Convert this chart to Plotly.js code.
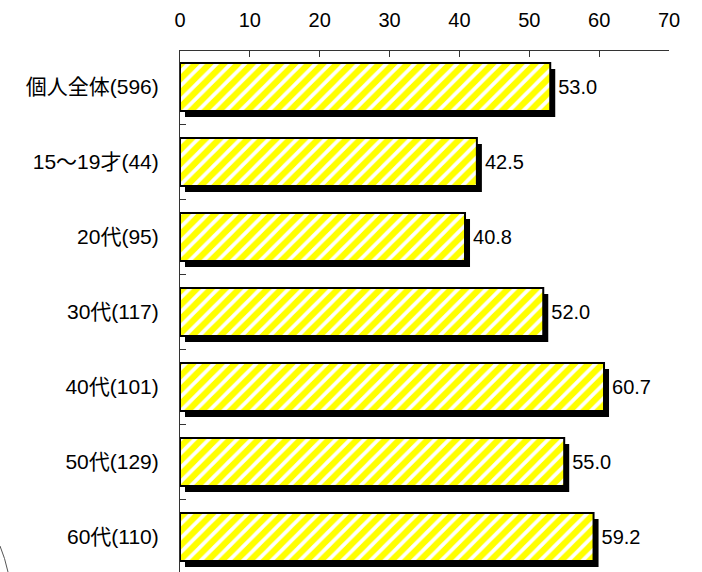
<!DOCTYPE html>
<html>
<head>
<meta charset="utf-8">
<script src="https://cdn.plot.ly/plotly-3.0.1.min.js"></script>
<style>html,body{margin:0;padding:0;background:#fff;}#chart{width:702px;height:572px;}</style>
</head>
<body>
<div id="chart"></div>
<script>
var categories = ["個人全体(596)", "15～19才(44)", "20代(95)", "30代(117)", "40代(101)", "50代(129)", "60代(110)"];
var values = [53.0, 42.5, 40.8, 52.0, 60.7, 55.0, 59.2];
var valueLabels = ["53.0", "42.5", "40.8", "52.0", "60.7", "55.0", "59.2"];
var xTicks = [0, 10, 20, 30, 40, 50, 60, 70];

var W = 702, H = 572, L = 180, R = 33, T = 51, B = 0;
var plotW = W - L - R, plotH = H - T - B;
var xMax = 70;
var pxPerUnit = plotW / xMax;
var shiftX = 5 / pxPerUnit;       // shadow shift right (5px)
var catPx = 75;
var barWidth = 0.64;
var shiftY = 6 / catPx;           // shadow shift down (6px)
var yTop = -0.48;
var yBottom = yTop + plotH / catPx;

var shadow = {
  type: 'bar', orientation: 'h',
  y: categories, x: values, base: shiftX,
  width: barWidth, offset: -barWidth / 2 + shiftY,
  marker: {color: '#000000', line: {width: 0}},
  hoverinfo: 'skip', showlegend: false
};
var main = {
  type: 'bar', orientation: 'h',
  y: categories, x: values,
  width: barWidth, offset: -barWidth / 2,
  marker: {
    color: '#ffffff',
    line: {color: '#000000', width: 2},
    pattern: {shape: '/', fgcolor: '#ffff00', fgopacity: 1, bgcolor: '#ffffff', size: 10, solidity: 0.62, fillmode: 'overlay'}
  },
  hoverinfo: 'skip', showlegend: false
};
var labels = {
  type: 'bar', orientation: 'h',
  y: categories, x: values, base: shiftX,
  width: barWidth, offset: -barWidth / 2,
  marker: {color: 'rgba(0,0,0,0)', line: {width: 0}},
  text: valueLabels, textposition: 'outside', cliponaxis: false,
  textfont: {family: 'Liberation Sans, Arial, sans-serif', size: 20, color: '#000'},
  hoverinfo: 'skip', showlegend: false
};

var layout = {
  width: W, height: H,
  margin: {l: L, r: R, t: T, b: B, pad: 0},
  paper_bgcolor: '#ffffff', plot_bgcolor: '#ffffff',
  barmode: 'overlay',
  showlegend: false,
  font: {family: 'Liberation Sans, Noto Sans CJK JP, sans-serif', size: 20, color: '#000'},
  xaxis: {
    side: 'top', range: [0, xMax], tickvals: xTicks, ticktext: xTicks.map(String),
    showgrid: false, zeroline: false, showline: true, linecolor: '#333', linewidth: 1,
    ticks: 'inside', ticklen: 6, tickcolor: '#333', tickwidth: 1,
    ticklabelstandoff: 15,
    tickfont: {family: 'Liberation Sans, Arial, sans-serif', size: 20, color: '#000'},
    fixedrange: true
  },
  yaxis: {
    type: 'category', range: [yBottom, yTop],
    showgrid: false, zeroline: false, showline: true, linecolor: '#333', linewidth: 1,
    ticks: 'inside', tickson: 'boundaries', ticklen: 6, tickcolor: '#333', tickwidth: 1,
    ticklabelstandoff: 16,
    tickfont: {family: 'Liberation Sans, Noto Sans CJK JP, sans-serif', size: 21, color: '#000'},
    fixedrange: true
  },
  shapes: [{
    type: 'path', xref: 'paper', yref: 'paper',
    path: 'M ' + ((0 - L) / plotW) + ' ' + ((H - 546) / plotH) + ' Q ' + ((5 - L) / plotW) + ' ' + ((H - 558) / plotH) + ' ' + ((8 - L) / plotW) + ' ' + ((H - 572) / plotH),
    line: {color: '#555', width: 1}
  }]
};

Plotly.newPlot('chart', [shadow, main, labels], layout, {displayModeBar: false, staticPlot: true});
</script>
</body>
</html>
